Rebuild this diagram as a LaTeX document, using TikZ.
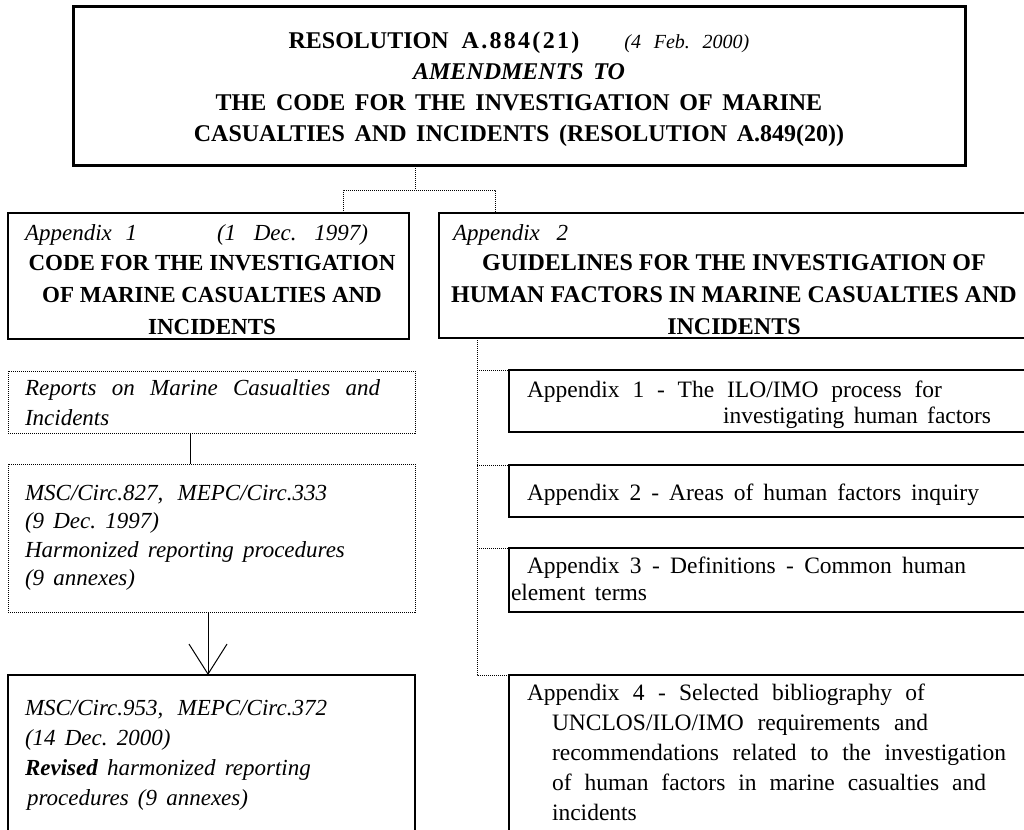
\documentclass[tikz,border=0pt]{standalone}
\usepackage{fontspec}
\setmainfont{Liberation Serif}
\usetikzlibrary{arrows.meta}
% a line spread to a given width (in pt)
\newcommand\jline[2]{\makebox[#1pt][s]{#2}}
% font size / baseline skip in pt
\newcommand\fs[2]{\fontsize{#1pt}{#2pt}\selectfont\frenchspacing}
\newcommand\widesp{\spaceskip=0.4em plus 0.4em minus 0.05em\relax}
\newcommand\tk{\kern2.3pt}
\begin{document}
\begin{tikzpicture}[x=1pt,y=-1pt,
  frame/.style={draw, rectangle, inner sep=0pt, outer sep=0pt, anchor=north west},
  heavybox/.style={frame, line width=3pt},
  solidbox/.style={frame, line width=2.4pt},
  dotbox/.style={frame, line width=1pt, dash pattern=on 1pt off 1pt},
  dotline/.style={line width=1pt, dash pattern=on 1pt off 1pt},
  link/.style={line width=1pt},
  txt/.style={inner sep=0pt, outer sep=0pt},
]
\useasboundingbox (0,0) rectangle (1024,829);
\clip (0,0) rectangle (1024,829);

% ---------- boxes ----------
\node[heavybox, minimum width=892pt, minimum height=159pt] (top) at (73,7) {};
\node[solidbox, minimum width=401pt, minimum height=126pt] (app1) at (8,213) {};
\node[solidbox, minimum width=620pt, minimum height=125pt] (app2) at (439,213) {};
\node[dotbox, minimum width=407pt, minimum height=62pt] (rep) at (8,371) {};
\node[dotbox, minimum width=407pt, minimum height=148pt] (msc) at (8,464) {};
\node[solidbox, minimum width=407pt, minimum height=200pt] (rev) at (8,675) {};
\node[solidbox, minimum width=560pt, minimum height=62pt] (b1) at (509,370) {};
\node[solidbox, minimum width=560pt, minimum height=52pt] (b2) at (509,465) {};
\node[solidbox, minimum width=560pt, minimum height=64pt] (b3) at (509,548) {};
\node[solidbox, minimum width=560pt, minimum height=200pt] (b4) at (509,675) {};

% ---------- texts ----------
\node[txt, anchor=base] (topT) at (519,49) {\fs{24}{31}\widesp
  \begin{tabular}[t]{@{}c@{}}
  \bfseries RESOLUTION\hspace{13pt}A\tk.\tk8\tk8\tk4\tk(\tk2\tk1\tk)\hspace{45pt}{\fs{20}{31}\widesp\mdseries\itshape\jline{125}{(4 Feb. 2000)}}\\
  \bfseries\itshape AMENDMENTS TO\\
  \bfseries THE CODE FOR THE INVESTIGATION OF MARINE\\
  \bfseries CASUALTIES AND INCIDENTS (RESOLUTION A.849(20))
  \end{tabular}};

\node[txt, anchor=base west] (app1a) at (25,240)
  {\fs{23}{31}\widesp\itshape\jline{112}{Appendix 1}\hspace{80pt}\jline{151}{(1 Dec. 1997)}};
\node[txt, anchor=base] (app1b) at (212,270) {\fs{23}{32}\bfseries
  \begin{tabular}[t]{@{}c@{}}CODE FOR THE INVESTIGATION\\ OF MARINE CASUALTIES AND\\ INCIDENTS\end{tabular}};

\node[txt, anchor=base west] (app2a) at (453,240)
  {\fs{23}{31}\widesp\itshape\jline{115}{Appendix 2}};
\node[txt, anchor=base] (app2b) at (734,270) {\fs{24}{32}\bfseries
  \begin{tabular}[t]{@{}c@{}}GUIDELINES FOR THE INVESTIGATION OF\\ HUMAN FACTORS IN MARINE CASUALTIES AND\\ INCIDENTS\end{tabular}};

\node[txt, anchor=base west] (repT) at (25,395) {\fs{23}{30}\widesp\itshape
  \begin{tabular}[t]{@{}l@{}}\jline{355}{Reports on Marine Casualties and}\\ Incidents\end{tabular}};
\node[txt, anchor=base west] (mscT) at (25,500) {\fs{23}{28.5}\widesp\itshape
  \begin{tabular}[t]{@{}l@{}}\jline{302}{MSC/Circ.827, MEPC/Circ.333}\\ (9 Dec. 1997)\\
  Harmonized reporting procedures\\ (9 annexes)\end{tabular}};
\node[txt, anchor=base west] (revT) at (25,715) {\fs{23}{30}\widesp\itshape
  \begin{tabular}[t]{@{}l@{}}\jline{302}{MSC/Circ.953, MEPC/Circ.372}\\ (14 Dec. 2000)\\
  \textbf{Revised} harmonized reporting\\ \hspace*{2pt}procedures (9 annexes)\end{tabular}};

\node[txt, anchor=base west] (b1T) at (527,397) {\fs{23.5}{26}\widesp
  \begin{tabular}[t]{@{}l@{}}\jline{415}{Appendix 1 - The ILO/IMO process for}\\
  \hspace*{196pt}investigating human factors\end{tabular}};
\node[txt, anchor=base west] (b2T) at (527,500)
  {\fs{23.5}{26}\widesp\jline{452}{Appendix 2 - Areas of human factors inquiry}};
\node[txt, anchor=base west] (b3T) at (527,573) {\fs{23.5}{27}\widesp
  \begin{tabular}[t]{@{}l@{}}\jline{439}{Appendix 3 - Definitions - Common human}\\
  \hspace*{-16pt}element terms\end{tabular}};
\node[txt, anchor=base west] (b4T) at (527,700) {\fs{23.5}{30}\widesp
  \begin{tabular}[t]{@{}l@{}}\jline{398}{Appendix 4 - Selected bibliography of}\\
  \hspace*{25pt}\jline{376}{UNCLOS/ILO/IMO requirements and}\\
  \hspace*{25pt}\jline{454}{recommendations related to the investigation}\\
  \hspace*{25pt}\jline{434}{of human factors in marine casualties and}\\
  \hspace*{25pt}incidents\end{tabular}};

% ---------- connectors ----------
\coordinate (hub) at (415,190);
\coordinate (hubL) at (343,190);
\coordinate (hubR) at (495,190);
\draw[dotline] (top.south -| hub) -- (hub);
\draw[dotline] (app1.north -| hubL) -- (hubL) -- (hubR) -- (app2.north -| hubR);

\coordinate (spine) at (477,338);
\draw[dotline] (app2.south -| spine) -- (spine |- b4.north west) -- (b4.north west);
\foreach \b in {b1,b2,b3} \draw[dotline] (spine |- \b.north west) -- (\b.north west);

\coordinate (linkx) at (190,0);
\draw[link] (rep.south -| linkx) -- (msc.north -| linkx);
\coordinate (arrx) at (208,0);
\draw[link, -{Straight Barb[length=30pt, width=38pt]}] (msc.south -| arrx) -- (rev.north -| arrx);
\end{tikzpicture}
\end{document}
